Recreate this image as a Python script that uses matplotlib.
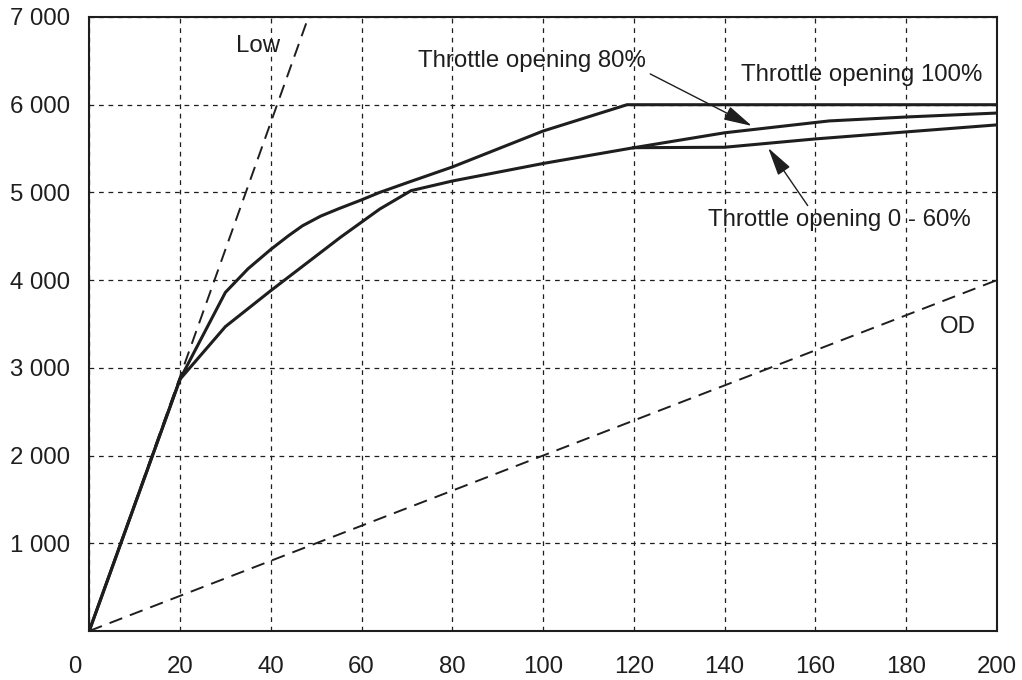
import numpy as np
import matplotlib
matplotlib.use("Agg")
import matplotlib.pyplot as plt
import matplotlib.transforms as mtransforms

plt.rcParams['font.family'] = ['Liberation Sans', 'DejaVu Sans']
plt.rcParams['font.size'] = 17.3

INK = '#1e1e1e'

# vehicle speed (x) vs engine speed (y)
x_tick_vals = list(range(0, 201, 20))
y_tick_vals = list(range(1000, 7001, 1000))
y_tick_labels = ["1 000", "2 000", "3 000", "4 000", "5 000", "6 000", "7 000"]

# gear ratio lines (dashed)
low_x = [0, 48.3]
low_y = [0, 7000]
od_x = [0, 200]
od_y = [0, 4000]

# shift curves (solid)
full_x = [0, 20, 30, 35, 40, 44, 47, 51, 55, 60, 64, 70, 80, 100, 118.5, 200]
full_y = [0, 2870, 3860, 4130, 4350, 4510, 4620, 4730, 4815, 4915, 5000, 5110,
          5290, 5700, 6000, 6000]

part_x = [0, 20, 30, 40, 55.4, 64, 70.9, 80, 100, 120]
part_y = [0, 2870, 3470, 3880, 4490, 4810, 5020, 5130, 5330, 5510]

th80_x = [120, 140, 163, 180, 200]
th80_y = [5510, 5680, 5815, 5860, 5905]

th60_x = [120, 140, 160, 180, 200]
th60_y = [5510, 5515, 5610, 5690, 5770]

fig = plt.figure(figsize=(10.22, 6.8), dpi=100)
ax = fig.add_axes([0.0873, 0.0721, 0.9755 - 0.0873, 0.975 - 0.0721])

ax.set_xlim(0, 200)
ax.set_ylim(0, 7000)

ax.grid(True, color=INK, lw=0.9, linestyle=(0, (3.8, 3.8)), zorder=0)
ax.set_axisbelow(True)

dash = (0, (7.0, 4.2))
ax.plot(low_x, low_y, color=INK, lw=1.4, linestyle=dash, zorder=2)
ax.plot(od_x, od_y, color=INK, lw=1.4, linestyle=dash, zorder=2)

ax.plot(full_x, full_y, color=INK, lw=2.2, solid_joinstyle='round', zorder=3)
ax.plot(part_x, part_y, color=INK, lw=2.2, solid_joinstyle='round', zorder=3)
ax.plot(th80_x, th80_y, color=INK, lw=2.2, solid_joinstyle='round', zorder=3)
ax.plot(th60_x, th60_y, color=INK, lw=2.2, solid_joinstyle='round', zorder=3)

ax.text(37.2, 6670, "Low", ha='center', va='center', color=INK)
ax.text(191.3, 3466, "OD", ha='center', va='center', color=INK)
ax.text(72.5, 6500, "Throttle opening 80%", ha='left', va='center', color=INK)
ax.text(143.6, 6340, "Throttle opening 100%", ha='left', va='center', color=INK)
ax.text(136.3, 4686, "Throttle opening 0 - 60%", ha='left', va='center', color=INK)

arrow = dict(arrowstyle='-|>,head_length=1.1,head_width=0.28', lw=1.0,
             color=INK, mutation_scale=16, shrinkA=0, shrinkB=0)
ax.annotate("", xy=(146, 5758), xytext=(123.6, 6351), arrowprops=arrow)
ax.annotate("", xy=(149.6, 5507), xytext=(158.3, 4850), arrowprops=arrow)

ax.set_xticks(x_tick_vals)
ax.set_xticklabels([str(v) for v in x_tick_vals])
ax.set_yticks(y_tick_vals)
ax.set_yticklabels(y_tick_labels)
ax.tick_params(axis='x', length=0, pad=18, colors=INK)
ax.tick_params(axis='y', length=0, pad=13.5, colors=INK)

# the "0" sits left of the corner
lab0 = ax.get_xticklabels()[0]
lab0.set_transform(lab0.get_transform() +
                   mtransforms.ScaledTranslation(-0.14, 0, fig.dpi_scale_trans))

for s in ax.spines.values():
    s.set_linewidth(1.5)
    s.set_color(INK)
    s.set_zorder(4)

fig.savefig("out.png", dpi=100)
